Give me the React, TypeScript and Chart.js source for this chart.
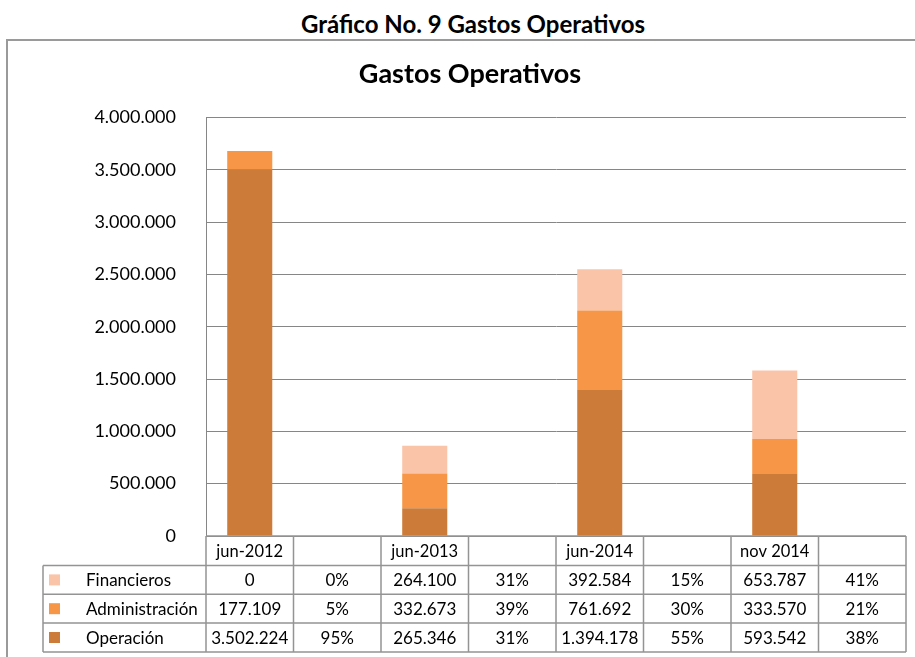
import React, { useEffect, useRef } from "react";
import { Chart, registerables } from "chart.js";

Chart.register(...registerables);

// ---- data ----
const categories = ["jun-2012", "", "jun-2013", "", "jun-2014", "", "nov 2014", ""];
const operacion = [3502224, 265346, 1394178, 593542];
const administracion = [177109, 332673, 761692, 333570];
const financieros = [0, 264100, 392584, 653787];
const operacionPct = ["95%", "31%", "55%", "38%"];
const administracionPct = ["5%", "39%", "30%", "21%"];
const financierosPct = ["0%", "31%", "15%", "41%"];
const seriesNames = ["Operación", "Administración", "Financieros"];
const yMax = 4000000;
const yStep = 500000;

const COLORS = ["rgb(204,123,57)", "rgb(247,150,70)", "rgb(250,196,169)"];
const FONT = "Lato, Carlito, Calibri, 'Open Sans', sans-serif";

const fmt = (v: number) => String(Math.round(v)).replace(/\B(?=(\d{3})+(?!\d))/g, ".");
const spread = (vals: number[]) => categories.map((_, i) => (i % 2 === 0 ? vals[i / 2] : null));

const seriesValues = [operacion, administracion, financieros];
const seriesPct = [operacionPct, administracionPct, financierosPct];

const tablePlugin = {
  id: "dataTable",
  afterDraw(chart: any) {
    const ctx = chart.ctx;
    const area = chart.chartArea;
    const xs = chart.scales.x;
    const n = categories.length;
    const w = xs.getPixelForValue(1) - xs.getPixelForValue(0);
    const left = xs.getPixelForValue(0) - w / 2;
    const right = left + n * w;
    const headTop = area.bottom;
    const headBottom = headTop + 29.5;
    const rowH = 28.8;
    const tableLeft = 43;
    const rows = [2, 1, 0]; // Financieros, Administración, Operación
    ctx.save();
    ctx.strokeStyle = "#949494";
    ctx.lineWidth = 1.5;
    ctx.beginPath();
    ctx.moveTo(left, headTop);
    ctx.lineTo(right, headTop);
    for (let r = 0; r <= rows.length; r++) {
      const y = headBottom + r * rowH;
      ctx.moveTo(tableLeft, y);
      ctx.lineTo(right, y);
    }
    const bottom = headBottom + rows.length * rowH;
    for (let c = 0; c <= n; c++) {
      const x = left + c * w;
      ctx.moveTo(x, headTop);
      ctx.lineTo(x, bottom);
    }
    ctx.moveTo(tableLeft, headBottom);
    ctx.lineTo(tableLeft, bottom);
    ctx.stroke();

    ctx.font = `17px ${FONT}`;
    ctx.textBaseline = "middle";
    rows.forEach((s, r) => {
      const cy = headBottom + r * rowH + rowH / 2;
      ctx.fillStyle = COLORS[s];
      ctx.fillRect(49, cy - 5.5, 11, 11);
      ctx.fillStyle = "#000";
      ctx.textAlign = "left";
      ctx.fillText(seriesNames[s], 86, cy + 1);
      ctx.textAlign = "center";
      for (let c = 0; c < n; c++) {
        const cx = left + c * w + w / 2;
        const txt = c % 2 === 0 ? fmt(seriesValues[s][c / 2]) : seriesPct[s][(c - 1) / 2];
        ctx.fillText(txt, cx, cy + 1);
      }
    });
    ctx.restore();
  },
};

export default function App() {
  const ref = useRef<HTMLCanvasElement>(null);
  useEffect(() => {
    const canvas = ref.current!;
    const chart = new Chart(canvas, {
      type: "bar",
      data: {
        labels: categories,
        datasets: seriesNames.map((name, i) => ({
          label: name,
          data: spread(seriesValues[i]),
          backgroundColor: COLORS[i],
          borderWidth: 0,
          categoryPercentage: 1,
          barPercentage: 0.515,
        })),
      },
      options: {
        responsive: false,
        animation: false,
        layout: { padding: { left: 34, right: 9, top: 0, bottom: 0 } },
        plugins: {
          legend: { display: false },
          tooltip: { enabled: false },
          title: {
            display: true,
            text: "Gastos Operativos",
            color: "#000",
            font: { family: FONT, size: 27, weight: "bold", lineHeight: 1.2 },
            padding: { top: 58, bottom: 27 },
          },
        },
        scales: {
          x: {
            stacked: true,
            grid: { display: false, drawTicks: false },
            border: { display: false },
            ticks: {
              padding: 6,
              color: "#000",
              font: { family: FONT, size: 16.5 },
              maxRotation: 0,
              autoSkip: false,
            },
            afterFit: (s: any) => {
              s.height = 121;
            },
          },
          y: {
            stacked: true,
            min: 0,
            max: yMax,
            ticks: {
              stepSize: yStep,
              padding: 30,
              color: "#000",
              font: { family: FONT, size: 18 },
              callback: (v: any) => fmt(Number(v)),
            },
            grid: { color: "#868686", lineWidth: 1, drawTicks: false },
            border: { display: true, color: "#868686", width: 1 },
            afterFit: (s: any) => {
              s.width = 172;
            },
          },
        },
      },
      plugins: [tablePlugin],
    } as any);
    return () => chart.destroy();
  }, []);

  return (
    <div style={{ position: "absolute", left: 0, top: 0, width: 915, height: 657, overflow: "hidden", background: "#fff" }}>
      <div
        style={{
          position: "absolute",
          left: 0,
          top: 8,
          width: 946,
          textAlign: "center",
          fontFamily: FONT,
          fontWeight: "bold",
          fontSize: 24,
          lineHeight: "32px",
          color: "#000",
        }}
      >
        Gráfico No. 9 Gastos Operativos
      </div>
      <div
        style={{
          position: "absolute",
          left: 6,
          top: 39,
          width: 1000,
          height: 1000,
          borderLeft: "2px solid #9a9a9a",
          borderTop: "2px solid #9a9a9a",
        }}
      />
      <canvas ref={ref} width={915} height={657} style={{ position: "absolute", left: 0, top: 0 }} />
    </div>
  );
}
